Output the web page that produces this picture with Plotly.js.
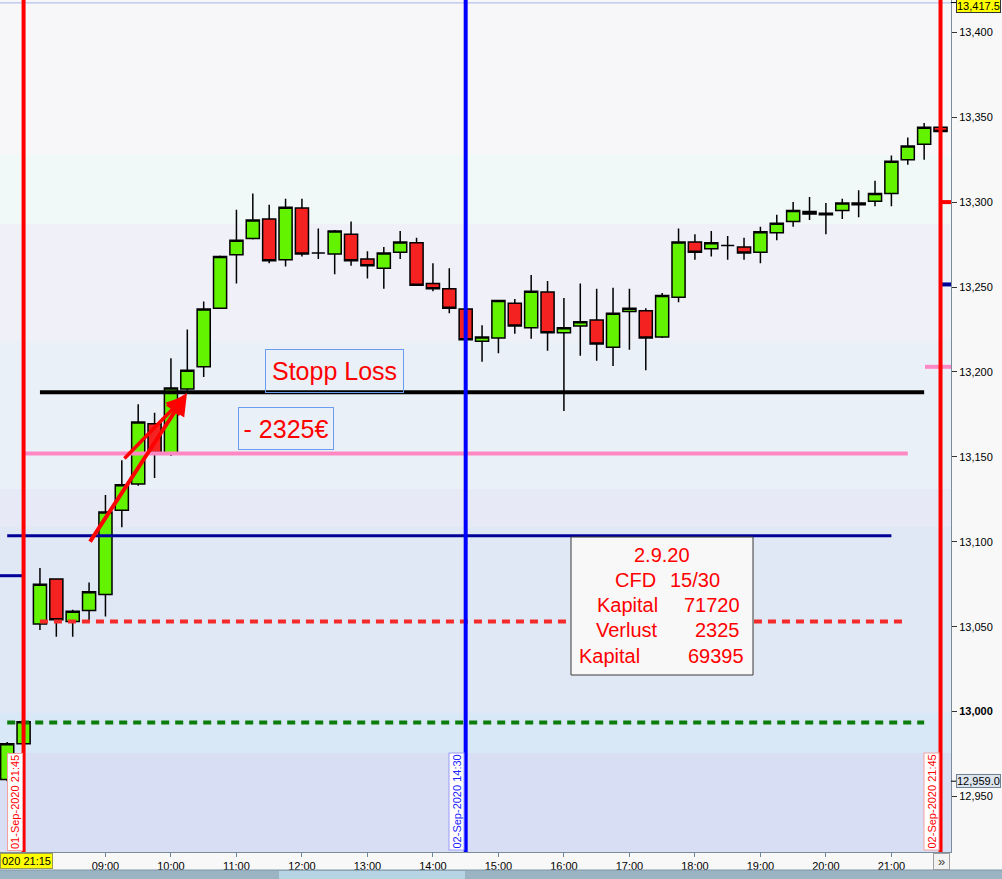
<!DOCTYPE html>
<html><head><meta charset="utf-8">
<script src="https://cdn.plot.ly/plotly-3.0.1.min.js"></script>
<style>html,body{margin:0;padding:0;background:#f8f8f8;}#chart{width:1002px;height:879px;}</style>
</head><body><div id="chart"></div>
<script>
// ---- data (15-minute candles) ----
const times = ['01.09 21:30','01.09 21:45',
 '08:00','08:15','08:30','08:45','09:00','09:15','09:30','09:45','10:00','10:15','10:30','10:45',
 '11:00','11:15','11:30','11:45','12:00','12:15','12:30','12:45','13:00','13:15','13:30','13:45',
 '14:00','14:15','14:30','14:45','15:00','15:15','15:30','15:45','16:00','16:15','16:30','16:45',
 '17:00','17:15','17:30','17:45','18:00','18:15','18:30','18:45','19:00','19:15','19:30','19:45',
 '20:00','20:15','20:30','20:45','21:00','21:15','21:30','21:45'];
const openP = [12960,12981,13051.5,13078,13053,13059.5,13069,13118.5,13134,13169.5,13152,13190,13203,13237.5,
 13269,13278.5,13290,13266,13296.5,13270,13269.5,13281,13266.5,13261,13270.5,13276,
 13252,13249,13237,13218,13220,13240.5,13226,13247,13223,13227,13230.5,13214.5,
 13235.5,13236,13220.5,13244,13276.5,13272.5,13274.5,13273.5,13270.5,13282,13288.5,13293,
 13293.5,13295,13298.5,13300.5,13305,13325,13334,13344];
const highP = [12982,12995,13084.5,13078,13060,13076,13127.5,13148,13181,13176,13208,13225,13241.5,13268.5,
 13295.5,13305,13298.5,13302,13302,13284.5,13283.5,13288.5,13271,13273.5,13283,13279,
 13264,13261,13237.5,13227.5,13242.5,13243,13257,13253.5,13243.5,13252,13249,13249.5,
 13249,13237.5,13246.5,13284.5,13281,13283,13280,13279,13285.5,13292.5,13300,13303,
 13299.5,13302,13307,13312.5,13327.5,13338,13346.5,13345];
const lowP = [12959,12981,13048,13044,13044,13053,13056,13108.5,13133,13137.5,13150.5,13189,13197,13237,
 13252,13278,13264,13262,13268,13266.5,13257.5,13262.5,13255,13249,13266.5,13251,
 13247.5,13234.5,13218.5,13206,13211,13222.5,13219.5,13212.5,13177,13209.5,13206.5,13203.5,
 13213,13201,13220,13241,13266,13268,13266,13266,13264,13277.5,13285.5,13289.5,
 13281,13290,13291,13297.5,13297.5,13322,13325,13339.5];
const closeP = [12981,12994,13075,13054,13059,13070.5,13117.5,13133.5,13170.5,13152,13190.5,13201,13237,13268,
 13277.5,13289.5,13265.5,13297,13269.5,13270,13283,13265.5,13262.5,13270,13276.5,13251,
 13249,13237.5,13219,13220.5,13242,13227,13247.5,13223,13226,13229.5,13216.5,13234.5,
 13237.5,13220,13245,13276.5,13270.5,13276,13274.5,13270,13282.5,13287.5,13295,13294.5,
 13292.5,13299.5,13299.5,13305,13324,13333,13344,13341.5];

const xTickTimes  = ['08:00','09:00','10:00','11:00','12:00','13:00','14:00','15:00','16:00','17:00','18:00','19:00','20:00','21:00'];
const xTickLabels = ['','09:00','10:00','11:00','12:00','13:00','14:00','15:00','16:00','17:00','18:00','19:00','20:00','21:00'];
const yTicks      = [12950,13000,13050,13100,13150,13200,13250,13300,13350,13400];
const yTickLabels = ['12,950','<b>13,000</b>','13,050','13,100','13,150','13,200','13,250','13,300','13,350','13,400'];

const stopLevel   = 13188;
const pinkLevel   = 13152;
const navyLevel   = 13103.5;
const navyPrev    = 13080;
const redDotLevel = 13053;
const greenDotLevel = 12993.5;
const lastPrice   = 13417.5;
const markPrice   = 12959.0;
const redMark = 13300, navyMark = 13251.5, pinkMark = 13203;

const infoTitle = '2.9.20';
const infoCfd = ['CFD','15/30'];
const infoLabels = ['Kapital','Verlust','Kapital'];
const infoValues = ['71720','2325','69395'];

// ---- geometry helpers ----
const idx = t => times.indexOf(t);
const xIdx = times.map((t,i)=>i);
const XR = [-0.44, 57.64], YR = [12917.3, 13419.0];
const PX = x => x/951, PY = y => (852-y)/852;
const FONT = 'Liberation Sans, Arial, sans-serif';

const trace = {
  type:'candlestick', x:xIdx, open:openP, high:highP, low:lowP, close:closeP,
  increasing:{fillcolor:'#63f200', line:{color:'#000', width:1.5}},
  decreasing:{fillcolor:'#f52222', line:{color:'#000', width:1.5}},
  whiskerwidth:0, hoverinfo:'skip', showlegend:false
};

const bands = [
  [13419,13327.7,'#f7f7f9'],[13327.7,13287.1,'#f0f8f8'],[13287.1,13218.2,'#f0f0f8'],
  [13218.2,13131,'#eaf0f8'],[13131,13108.7,'#e7e9f6'],[13108.7,12999.1,'#e0e7f5'],
  [12999.1,12975.6,'#d8e8f6'],[12975.6,12900,'#d8dff5']
];
const shapes = [];
bands.forEach(b=>shapes.push({type:'rect',xref:'paper',yref:'y',x0:0,x1:1,y0:b[1],y1:b[0],fillcolor:b[2],line:{width:0},layer:'below'}));
function hline(x0,x1,y,color,width,dash){shapes.push({type:'line',xref:'x',yref:'y',x0:x0,x1:x1,y0:y,y1:y,line:{color:color,width:width,dash:dash||'solid'},layer:'above'});}
hline(XR[0],XR[1],lastPrice-0.2,'#a8b4ee',1);
hline(XR[0],idx('01.09 21:45'),navyPrev,'#000099',3);
hline(idx('01.09 21:30'),idx('21:00'),navyLevel,'#000099',3);
hline(idx('01.09 21:45')+0.03,idx('21:15'),pinkLevel,'#ff88c4',4);
hline(idx('08:00'),idx('21:15')-0.2,redDotLevel,'#f52a2a',4,'8px,6px');
hline(idx('01.09 21:30'),idx('21:30'),greenDotLevel,'#0a7d0a',4,'8px,6px');
hline(idx('08:00'),idx('21:30'),stopLevel,'#000',4);
hline(idx('21:45'),XR[1],redMark,'#ff0000',4);
hline(idx('21:45'),XR[1],navyMark,'#000099',4);
hline(idx('21:30')+0.05,XR[1],pinkMark,'#ff88c4',4);
// info box
shapes.push({type:'rect',xref:'paper',yref:'paper',x0:PX(571),x1:PX(753),y0:PY(675),y1:PY(537),fillcolor:'#f8f8f8',line:{color:'#3a3a3a',width:1},layer:'above'});
// vertical lines
function vline(x,color){shapes.push({type:'line',xref:'x',yref:'paper',x0:x,x1:x,y0:0,y1:1,line:{color:color,width:4},layer:'above'});}
vline(idx('01.09 21:45'),'#ff0000');
vline(idx('14:30'),'#0000ff');
vline(idx('21:45'),'#ff0000');
// axis ticks for price labels
[lastPrice,markPrice].forEach(p=>shapes.push({type:'line',xref:'paper',yref:'y',x0:1,x1:1+5/951,y0:p,y1:p,line:{color:'#000',width:1}}));
// bottom toolbar
shapes.push({type:'rect',xref:'paper',yref:'paper',x0:0,x1:1002/951,y0:PY(880),y1:PY(870),fillcolor:'#9bb3c2',line:{width:0}});
shapes.push({type:'rect',xref:'paper',yref:'paper',x0:PX(279),x1:PX(465),y0:PY(880),y1:PY(871),fillcolor:'#b6d4e4',line:{width:0}});
shapes.push({type:'line',xref:'paper',yref:'paper',x0:0,x1:1002/951,y0:PY(870),y1:PY(870),line:{color:'#7f98a8',width:1}});

const annotations = [];
const tx = (text,x,y,opts)=>annotations.push(Object.assign({text:text,xref:'paper',yref:'paper',x:PX(x),y:PY(y),xanchor:'center',yanchor:'middle',showarrow:false,font:{family:FONT,size:20,color:'#ff0000'}},opts||{}));
// red arrows
annotations.push({xref:'x',yref:'y',axref:'x',ayref:'y',x:10.98,y:13187.6,ax:5.0,ay:13099.2,text:'',showarrow:true,arrowcolor:'#ff0000',arrowwidth:4,arrowhead:2,arrowsize:1.1});
annotations.push({xref:'x',yref:'y',axref:'x',ayref:'y',x:10.9,y:13186,ax:7.07,ay:13148.1,text:'',showarrow:true,arrowcolor:'#ff0000',arrowwidth:3.5,arrowhead:2,arrowsize:1.1});
// boxed labels
tx('Stopp Loss',334.5,371,{font:{family:FONT,size:25,color:'#ff0000'},width:133,height:38,borderpad:2,borderwidth:1,bordercolor:'#6c9cf0',bgcolor:'rgba(0,0,0,0)'});
tx('- 2325€',286,428.5,{font:{family:FONT,size:25,color:'#ff0000'},width:90,height:37,borderpad:2,borderwidth:1,bordercolor:'#6c9cf0',bgcolor:'rgba(0,0,0,0)'});
// info box text
tx(infoTitle,662,555);
tx(infoCfd[0],613,580,{xanchor:'left'});
tx(infoCfd[1],722,580,{xanchor:'right'});
const infoRows = [[595,742,605],[594,742,630],[577,746,656]];
infoLabels.forEach((l,i)=>{tx(l,infoRows[i][0],infoRows[i][2],{xanchor:'left'});tx(infoValues[i],infoRows[i][1],infoRows[i][2],{xanchor:'right'});});
// rotated date labels
const dl = (text,x,color,bc)=>tx(text,x,802,{textangle:-90,font:{family:FONT,size:11,color:color},bgcolor:'#ffffff',bordercolor:bc,borderwidth:1,borderpad:1});
dl('01-Sep-2020 21:45',15,'#ff0000','#f4a0a0');
dl('02-Sep-2020 14:30',456.5,'#2222ff','#9a9aff');
dl('02-Sep-2020 21:45',931.5,'#ff0000','#f4a0a0');
// price labels on axis
tx('13,417.5',956,-1,{xanchor:'left',yanchor:'top',font:{family:FONT,size:11,color:'#000'},bgcolor:'#ffff00',bordercolor:'#333',borderwidth:1,borderpad:0});
annotations.push({text:'12,959.0',xref:'paper',yref:'y',x:PX(956),y:markPrice,xanchor:'left',yanchor:'middle',showarrow:false,font:{family:FONT,size:11,color:'#000'},bgcolor:'#dce4ee',bordercolor:'#708090',borderwidth:1,borderpad:0});
// bottom-left cursor label and scroll button
tx('020 21:15',0,861,{xanchor:'left',font:{family:FONT,size:11,color:'#000'},bgcolor:'#ffff00',bordercolor:'#9a9a50',borderwidth:1,borderpad:1});
tx('»',941.5,861.5,{font:{family:FONT,size:13,color:'#444'},bgcolor:'#f2f2f2',bordercolor:'#a0a0a0',borderwidth:1,width:13,height:13,borderpad:1});

const layout = {
  width:1002, height:879, autosize:false,
  margin:{l:0,r:51,t:0,b:27,pad:0},
  paper_bgcolor:'#f8f8f8', plot_bgcolor:'#eef0f8',
  boxgap:0.2, boxgroupgap:0,
  showlegend:false, hovermode:false, dragmode:false,
  font:{family:FONT,size:11,color:'#000'},
  xaxis:{type:'linear',range:XR,rangeslider:{visible:false},tickvals:xTickTimes.map(idx),ticktext:xTickLabels,
    ticks:'outside',ticklen:4,tickcolor:'#6f8595',showline:true,linecolor:'#7a8c99',linewidth:1,
    showgrid:false,zeroline:false,tickfont:{family:FONT,size:11,color:'#000'},fixedrange:true},
  yaxis:{side:'right',range:YR,tickvals:yTicks,ticktext:yTickLabels,ticks:'outside',ticklen:5,tickcolor:'#333',
    showline:true,linecolor:'#7a8c99',linewidth:1,showgrid:false,zeroline:false,
    tickfont:{family:FONT,size:11,color:'#000'},fixedrange:true},
  shapes:shapes, annotations:annotations
};
Plotly.newPlot('chart',[trace],layout,{staticPlot:true,displayModeBar:false});
</script></body></html>
